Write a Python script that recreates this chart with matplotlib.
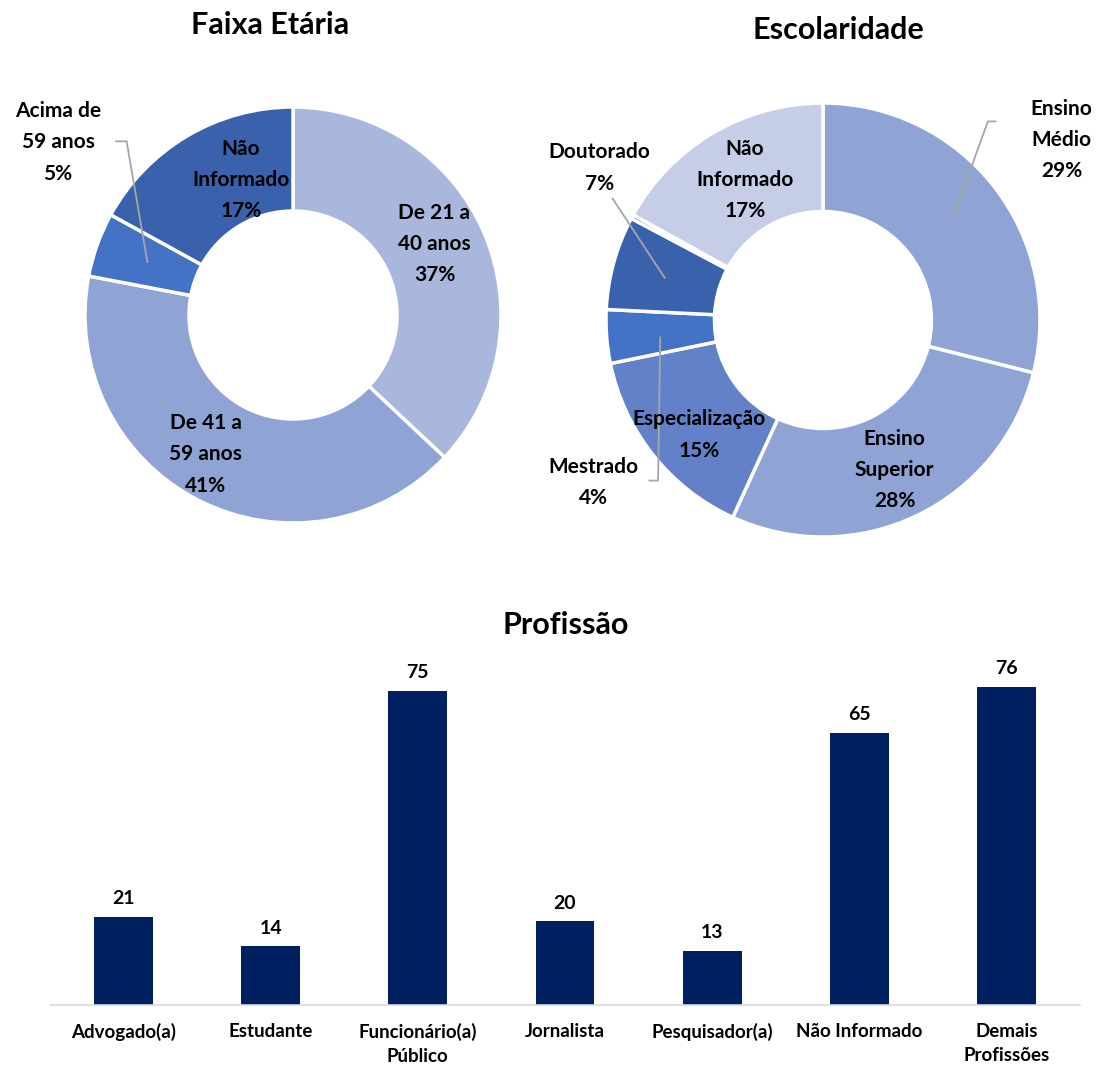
import numpy as np
import matplotlib.pyplot as plt

plt.rcParams['font.family'] = ['Lato', 'DejaVu Sans']
plt.rcParams['font.weight'] = 'bold'

# Faixa etária
faixa_labels = ["De 21 a\n40 anos\n37%", "De 41 a\n59 anos\n41%", "Acima de\n59 anos\n5%", "Não\nInformado\n17%"]
faixa_vals = [37, 41, 5, 17]
faixa_cores = ["#A9B7DC", "#8FA3D4", "#4472C4", "#3A62AC"]

# Escolaridade (fatia minúscula sem rótulo entre Doutorado e Não Informado)
esc_labels = ["Ensino\nMédio\n29%", "Ensino\nSuperior\n28%", "Especialização\n15%", "Mestrado\n4%",
              "Doutorado\n7%", "", "Não\nInformado\n17%"]
esc_vals = [29, 28, 15, 4, 7, 0.3, 17]
esc_cores = ["#8FA3D4", "#8FA3D4", "#6281C8", "#4472C4", "#3A62AC", "#2F559E", "#C5CEE6"]

# Profissão
prof_labels = ["Advogado(a)", "Estudante", "Funcionário(a)\nPúblico", "Jornalista",
               "Pesquisador(a)", "Não Informado", "Demais\nProfissões"]
prof_vals = [21, 14, 75, 20, 13, 65, 76]

W, H = 1100, 1065
fig = plt.figure(figsize=(W / 100, H / 100), dpi=100)


def donut_axes(cx, cy, r):
    size = 2.4 * r
    return fig.add_axes([(cx - size / 2) / W, (H - cy - size / 2) / H, size / W, size / H])


def fix_limits(ax):
    ax.set_xlim(-1.2, 1.2)
    ax.set_ylim(-1.2, 1.2)
    ax.set_aspect('equal')
    ax.axis('off')


# ---- Faixa Etária ----
ax1 = donut_axes(293, 315, 208)
ax1.pie(faixa_vals, colors=faixa_cores, startangle=90, counterclock=False, radius=1,
        wedgeprops=dict(width=0.5, edgecolor='white', linewidth=2.5))
fix_limits(ax1)
pos1 = [(0.68, 0.34), (-0.42, -0.67), (-1.13, 0.83), (-0.25, 0.65)]
for lab, (x, y) in zip(faixa_labels, pos1):
    ax1.text(x, y, lab, ha='center', va='center', fontsize=15, linespacing=1.7, color='black')
ax1.plot([-0.85, -0.80, -0.70], [0.835, 0.835, 0.255], color='#A6A6A6', lw=1.3)
fig.text(270 / W, 1 - 25 / H, "Faixa Etária", ha='center', va='center', fontsize=22)

# ---- Escolaridade ----
ax2 = donut_axes(823, 320, 217)
ax2.pie(esc_vals, colors=esc_cores, startangle=90, counterclock=False, radius=1,
        wedgeprops=dict(width=0.5, edgecolor='white', linewidth=2.5))
fix_limits(ax2)
pos2 = [(1.10, 0.83), (0.33, -0.69), (-0.57, -0.53), (-1.06, -0.75), (-1.03, 0.70), (0, 0), (-0.36, 0.645)]
for lab, (x, y) in zip(esc_labels, pos2):
    if lab:
        ax2.text(x, y, lab, ha='center', va='center', fontsize=15, linespacing=1.7, color='black')
ax2.plot([0.795, 0.76, 0.60], [0.915, 0.915, 0.475], color='#A6A6A6', lw=1.3)
ax2.plot([-0.75, -0.76, -0.80], [-0.08, -0.74, -0.74], color='#A6A6A6', lw=1.3)
ax2.plot([-0.97, -0.73], [0.56, 0.195], color='#A6A6A6', lw=1.3)
fig.text(838 / W, 1 - 30 / H, "Escolaridade", ha='center', va='center', fontsize=22)

# ---- Profissão ----
ax3 = fig.add_axes([50 / W, 60 / H, 1030 / W, 335 / H])
x = np.arange(len(prof_vals))
barras = ax3.bar(x, prof_vals, width=0.4, color='#002060')
ax3.bar_label(barras, padding=7, fontsize=14, color='black')
ax3.set_xlim(-0.5, len(prof_vals) - 0.5)
ax3.set_ylim(0, 80)
ax3.set_xticks(x)
ax3.set_xticklabels(prof_labels, fontsize=13.5, linespacing=1.5)
ax3.tick_params(axis='x', length=0, pad=13)
ax3.set_yticks([])
for s in ['top', 'right', 'left']:
    ax3.spines[s].set_visible(False)
ax3.spines['bottom'].set_color('#D9D9D9')
ax3.spines['bottom'].set_linewidth(1.2)
fig.text(566 / W, 1 - 625 / H, "Profissão", ha='center', va='center', fontsize=22)

fig.savefig('out.png', dpi=100)
